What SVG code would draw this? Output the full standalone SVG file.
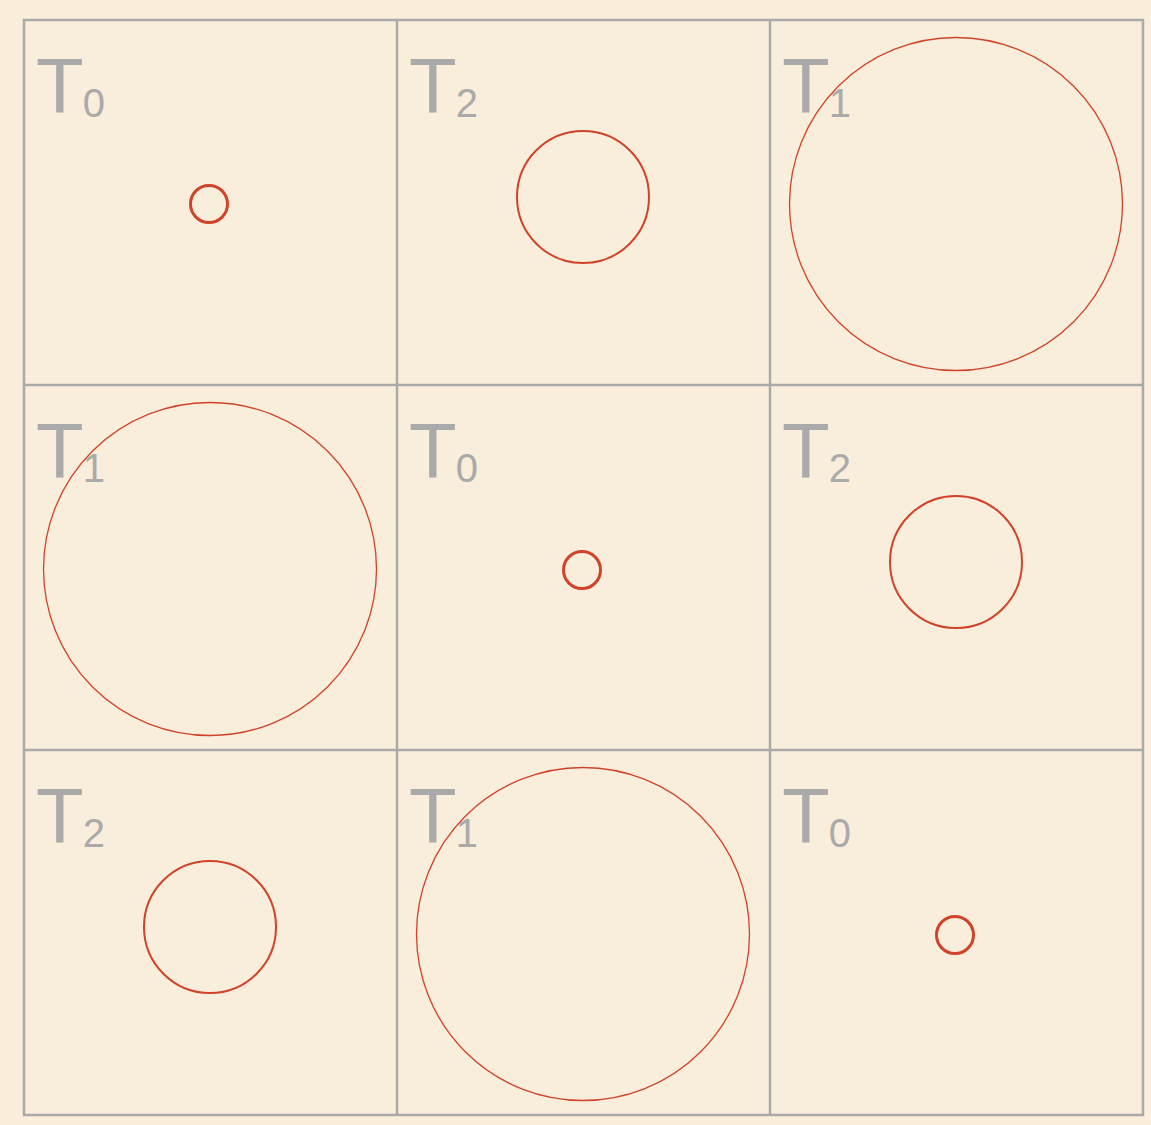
<svg xmlns="http://www.w3.org/2000/svg" width="1151" height="1125" viewBox="0 0 1151 1125">
<style>
.cell{fill:#F8EEDB;stroke:#AAAAAA;stroke-width:2.5}
.lab{font-family:"Liberation Sans",Arial,sans-serif;fill:#AAAAAA}
.T{font-size:78px}
.sub{font-size:40px}
.c{fill:none;stroke:#D0432A}
.s{stroke-width:3}
.m{stroke-width:2}
.l{stroke-width:1.3}
</style>
<rect width="1151" height="1125" fill="#FBEFDB"/>
<g id="grid">
<rect class="cell" x="24" y="20" width="1119" height="1095"/>
<line x1="397" y1="20" x2="397" y2="1115" stroke="#AAAAAA" stroke-width="2.5"/>
<line x1="770" y1="20" x2="770" y2="1115" stroke="#AAAAAA" stroke-width="2.5"/>
<line x1="24" y1="385" x2="1143" y2="385" stroke="#AAAAAA" stroke-width="2.5"/>
<line x1="24" y1="750" x2="1143" y2="750" stroke="#AAAAAA" stroke-width="2.5"/>
</g>
<g id="cell-1-1"><text class="lab" x="36" y="113"><tspan class="T">T</tspan><tspan class="sub" dx="-1" dy="4">0</tspan></text><circle class="c s" cx="209" cy="204" r="18.5"/></g>
<g id="cell-1-2"><text class="lab" x="409" y="113"><tspan class="T">T</tspan><tspan class="sub" dx="-1" dy="4">2</tspan></text><circle class="c m" cx="583" cy="197" r="66"/></g>
<g id="cell-1-3"><text class="lab" x="782" y="113"><tspan class="T">T</tspan><tspan class="sub" dx="-1" dy="4">1</tspan></text><circle class="c l" cx="956" cy="204" r="166.5"/></g>
<g id="cell-2-1"><text class="lab" x="36" y="478"><tspan class="T">T</tspan><tspan class="sub" dx="-1" dy="4">1</tspan></text><circle class="c l" cx="210" cy="569" r="166.5"/></g>
<g id="cell-2-2"><text class="lab" x="409" y="478"><tspan class="T">T</tspan><tspan class="sub" dx="-1" dy="4">0</tspan></text><circle class="c s" cx="582" cy="570" r="18.5"/></g>
<g id="cell-2-3"><text class="lab" x="782" y="478"><tspan class="T">T</tspan><tspan class="sub" dx="-1" dy="4">2</tspan></text><circle class="c m" cx="956" cy="562" r="66"/></g>
<g id="cell-3-1"><text class="lab" x="36" y="843"><tspan class="T">T</tspan><tspan class="sub" dx="-1" dy="4">2</tspan></text><circle class="c m" cx="210" cy="927" r="66"/></g>
<g id="cell-3-2"><text class="lab" x="409" y="843"><tspan class="T">T</tspan><tspan class="sub" dx="-1" dy="4">1</tspan></text><circle class="c l" cx="583" cy="934" r="166.5"/></g>
<g id="cell-3-3"><text class="lab" x="782" y="843"><tspan class="T">T</tspan><tspan class="sub" dx="-1" dy="4">0</tspan></text><circle class="c s" cx="955" cy="935" r="18.5"/></g>
<g id="connectors"/>
</svg>
